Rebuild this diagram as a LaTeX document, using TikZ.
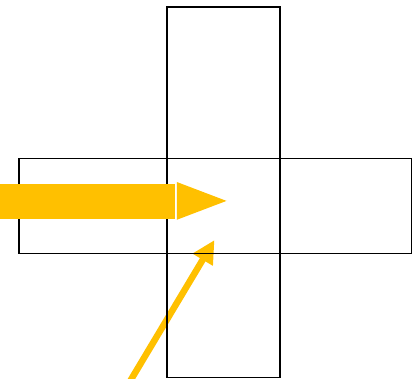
\documentclass[tikz,border=0pt]{standalone}
\usepackage{tikz}
\usetikzlibrary{arrows.meta}
\definecolor{gold}{HTML}{FFC000}

\begin{document}
\begin{tikzpicture}[x=1pt, y=-1pt,
  bar/.style={rectangle, draw, line width=1.6pt, inner sep=0pt},
  >={Triangle[length=23pt, width=22pt]}]
\useasboundingbox (0,0) rectangle (420,379);
\coordinate (foot) at (129,383);
\coordinate (aim) at (214.5,240);
\draw[->, gold, line width=6.5pt] (foot) -- (aim);
\node[bar, minimum width=112.7pt, minimum height=370.7pt] (vbar) at (223.6,192.3) {};
\node[bar, minimum width=392.7pt, minimum height=95pt] (hbar) at (215.3,206.2) {};
\coordinate (tail) at (0,201.7);
\coordinate (neck) at (175.3,201.7);
\coordinate (tip) at (226.5,200.9);
\draw[gold, line width=34.6pt] (tail) -- (neck);
\fill[gold] (176.8,182) -- (tip) -- (176.8,219.8) -- cycle;
\end{tikzpicture}
\end{document}
